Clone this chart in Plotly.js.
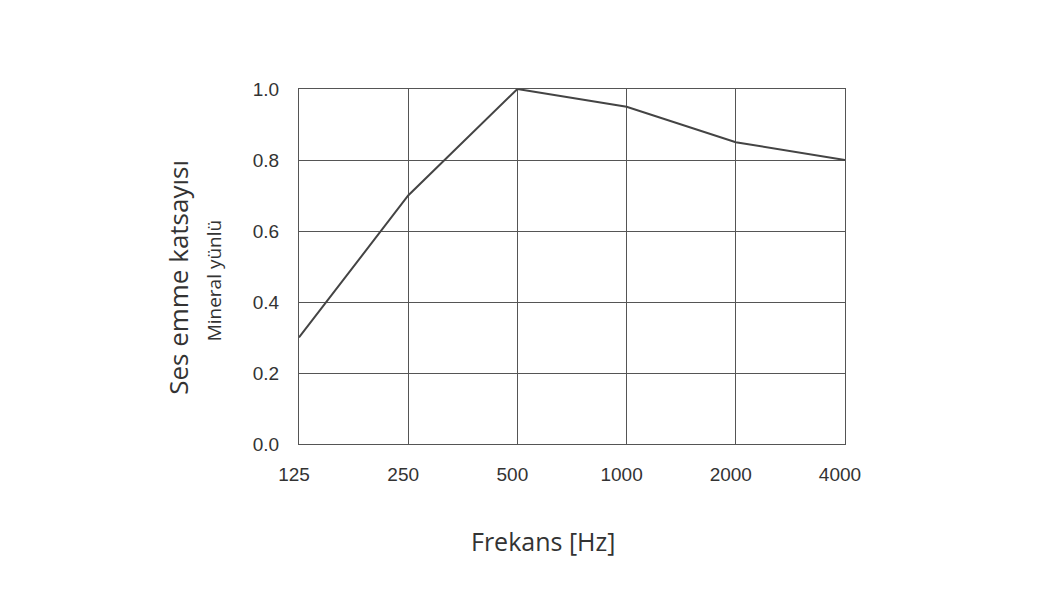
<!DOCTYPE html>
<html>
<head>
<meta charset="utf-8">
<script src="https://cdn.plot.ly/plotly-3.0.1.min.js"></script>
<style>html,body{margin:0;padding:0;background:#fff;}#chart{width:1050px;height:601px;}</style>
</head>
<body>
<div id="chart"></div>
<script>
const frequencies = ["125", "250", "500", "1000", "2000", "4000"];
const absorption = [0.30, 0.70, 1.00, 0.95, 0.85, 0.80];
const yTicks = [0, 0.2, 0.4, 0.6, 0.8, 1.0];
const yTickLabels = ["0.0", "0.2", "0.4", "0.6", "0.8", "1.0"];
const titleFont = "'Open Sans', sans-serif";

const trace = {
  x: frequencies,
  y: absorption,
  type: "scatter",
  mode: "lines",
  line: {color: "#444444", width: 2},
  hoverinfo: "skip"
};

const layout = {
  width: 1050, height: 601,
  margin: {l: 299, r: 205, t: 89, b: 157},
  paper_bgcolor: "#ffffff",
  plot_bgcolor: "#ffffff",
  showlegend: false,
  font: {family: "'Liberation Sans', Arial, sans-serif", size: 19, color: "#333333"},
  xaxis: {
    type: "category",
    range: [0, 5],
    showgrid: true, gridcolor: "#555555", gridwidth: 1,
    showline: true, linecolor: "#555555", linewidth: 1, mirror: true,
    zeroline: false,
    ticks: "", ticklabelstandoff: 13, ticklabelshift: -5,
    tickfont: {size: 19, color: "#333333"}
  },
  yaxis: {
    range: [0, 1],
    tickvals: yTicks, ticktext: yTickLabels,
    showgrid: true, gridcolor: "#555555", gridwidth: 1,
    showline: true, linecolor: "#555555", linewidth: 1, mirror: true,
    zeroline: false,
    ticks: "", ticklabelstandoff: 15,
    tickfont: {size: 19, color: "#333333"}
  },
  annotations: [
    {text: "Ses emme katsayısı", xref: "paper", yref: "paper", x: -0.2216, y: 0.468,
     xanchor: "center", yanchor: "middle", textangle: -90, showarrow: false,
     font: {family: titleFont, size: 26, color: "#333333"}},
    {text: "Mineral yünlü", xref: "paper", yref: "paper", x: -0.155, y: 0.462,
     xanchor: "center", yanchor: "middle", textangle: -90, showarrow: false,
     font: {family: titleFont, size: 19, color: "#333333"}},
    {text: "Frekans [Hz]", xref: "paper", yref: "paper", x: 0.447, y: -0.273,
     xanchor: "center", yanchor: "middle", showarrow: false,
     font: {family: titleFont, size: 25, color: "#333333"}}
  ]
};

Plotly.newPlot("chart", [trace], layout, {displayModeBar: false, staticPlot: true});
</script>
</body>
</html>
